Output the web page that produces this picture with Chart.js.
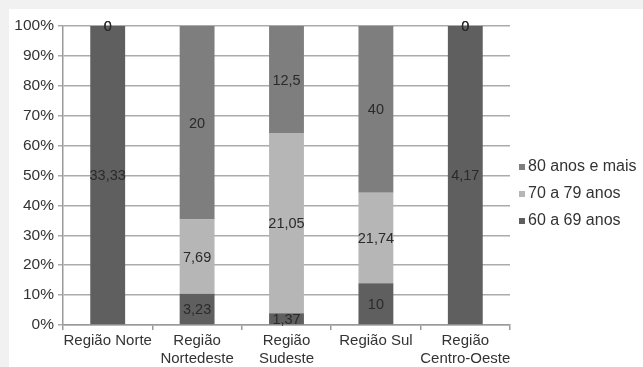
<!DOCTYPE html>
<html>
<head>
<meta charset="utf-8">
<script src="https://cdn.jsdelivr.net/npm/chart.js@4/dist/chart.umd.min.js"></script>
<style>
  html, body { margin: 0; padding: 0; background: #f1f1f1; }
  #wrap { position: relative; width: 643px; height: 367px; }
  canvas { display: block; }
</style>
</head>
<body>
<div id="wrap"><canvas id="c" width="643" height="367"></canvas></div>
<script>
// Regions (x-axis categories)
const categories = [
  ['Região Norte'],
  ['Região', 'Nortedeste'],
  ['Região', 'Sudeste'],
  ['Região Sul'],
  ['Região', 'Centro-Oeste']
];

// Age-group values per region
const seriesNames = ['60 a 69 anos', '70 a 79 anos', '80 anos e mais'];
const ages60to69 = [33.33, 3.23, 1.37, 10, 4.17];
const ages70to79 = [0, 7.69, 21.05, 21.74, 0];
const ages80plus = [0, 20, 12.5, 40, 0];

// Y-axis tick labels (percent)
const yTicks = [0, 10, 20, 30, 40, 50, 60, 70, 80, 90, 100];

const colors = ['#5f5f5f', '#b6b6b6', '#7e7e7e'];
const rawSeries = [ages60to69, ages70to79, ages80plus];

// 100% stacking: each segment is its share of the region total
const totals = categories.map((_, i) => rawSeries.reduce((s, arr) => s + arr[i], 0));
const shares = rawSeries.map(arr => arr.map((v, i) => totals[i] ? v / totals[i] * 100 : 0));

const FONT = "'Liberation Sans', Arial, Helvetica, sans-serif";
const TEXT = '#333333';

const fmt = v => String(v).replace('.', ',');

const background = {
  id: 'background',
  beforeDraw(chart) {
    const ctx = chart.ctx;
    ctx.save();
    ctx.fillStyle = '#f1f1f1';
    ctx.fillRect(0, 0, chart.width, chart.height);
    ctx.fillStyle = '#ffffff';
    ctx.fillRect(9, 9, chart.width - 9, chart.height - 9);
    ctx.restore();
  }
};

// Raw value in the middle of each segment
const segmentLabels = {
  id: 'segmentLabels',
  afterDatasetsDraw(chart) {
    const ctx = chart.ctx;
    ctx.save();
    ctx.font = '14.5px ' + FONT;
    ctx.fillStyle = '#2a2a2a';
    ctx.textAlign = 'center';
    ctx.textBaseline = 'middle';
    chart.data.datasets.forEach((ds, di) => {
      const meta = chart.getDatasetMeta(di);
      meta.data.forEach((el, i) => {
        const y = (el.y + el.base) / 2;
        ctx.fillText(fmt(ds.raw[i]), el.x, y + 1);
      });
    });
    ctx.restore();
  }
};

// Legend on the right, top series first
const sideLegend = {
  id: 'sideLegend',
  afterDraw(chart) {
    const ctx = chart.ctx;
    const ds = chart.data.datasets.slice().reverse();
    ctx.save();
    ctx.font = '16px ' + FONT;
    ctx.textBaseline = 'middle';
    ctx.textAlign = 'left';
    ds.forEach((d, k) => {
      const y = 167 + k * 27;
      ctx.fillStyle = d.backgroundColor;
      ctx.fillRect(519, y - 3, 6, 6);
      ctx.fillStyle = TEXT;
      ctx.fillText(d.label, 528, y);
    });
    ctx.restore();
  }
};

new Chart(document.getElementById('c'), {
  type: 'bar',
  data: {
    labels: categories,
    datasets: seriesNames.map((name, k) => ({
      label: name,
      data: shares[k],
      raw: rawSeries[k],
      backgroundColor: colors[k],
      borderWidth: 0,
      barPercentage: 0.39,
      categoryPercentage: 1
    }))
  },
  options: {
    responsive: false,
    animation: false,
    layout: { padding: { left: 0, top: 26, right: 133, bottom: 0 } },
    plugins: {
      legend: { display: false },
      tooltip: { enabled: false }
    },
    scales: {
      x: {
        stacked: true,
        afterFit(s) { s.height = 42; },
        grid: {
          drawOnChartArea: false,
          drawTicks: true,
          tickLength: 5,
          color: '#9a9a9a',
          lineWidth: 1.5
        },
        border: { color: '#9a9a9a', width: 1.5 },
        ticks: {
          color: TEXT,
          font: { family: FONT, size: 15 },
          padding: 2,
          maxRotation: 0,
          autoSkip: false
        }
      },
      y: {
        stacked: true,
        min: 0,
        max: 100,
        afterFit(s) { s.width = 63; },
        afterBuildTicks(s) { s.ticks = yTicks.map(v => ({ value: v })); },
        grid: {
          color: '#ababab',
          lineWidth: 1.5,
          drawTicks: true,
          tickLength: 5
        },
        border: { color: '#9a9a9a', width: 1.5 },
        ticks: {
          color: TEXT,
          font: { family: FONT, size: 15.5 },
          padding: 4,
          callback: v => v + '%'
        }
      }
    }
  },
  plugins: [background, segmentLabels, sideLegend]
});
</script>
</body>
</html>
